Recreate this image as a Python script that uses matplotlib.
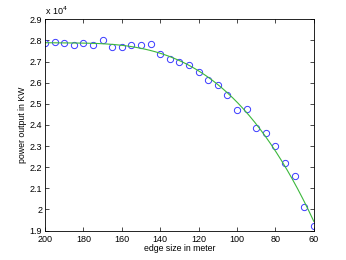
import numpy as np
import matplotlib
matplotlib.use('Agg')
import matplotlib.pyplot as plt

plt.rcParams['font.family'] = ['Liberation Sans', 'DejaVu Sans']

# edge size (m) and measured power output (x 10^4 KW)
edge_size = [200, 195, 190, 185, 180, 175, 170, 165, 160, 155, 150, 145, 140, 135,
             130, 125, 120, 115, 110, 105, 100, 95, 90, 85, 80, 75, 70, 65, 60]
power = [2.789, 2.791, 2.788, 2.777, 2.788, 2.777, 2.802, 2.769, 2.770, 2.778,
         2.777, 2.782, 2.737, 2.714, 2.697, 2.685, 2.651, 2.611, 2.591, 2.542,
         2.472, 2.474, 2.384, 2.364, 2.302, 2.219, 2.159, 2.014, 1.921]

x_ticks = [200, 180, 160, 140, 120, 100, 80, 60]
y_ticks = [1.9, 2.0, 2.1, 2.2, 2.3, 2.4, 2.5, 2.6, 2.7, 2.8, 2.9]
y_tick_labels = ['1.9', '2', '2.1', '2.2', '2.3', '2.4', '2.5', '2.6', '2.7', '2.8', '2.9']

x = np.array(edge_size, dtype=float)
y = np.array(power) * 1e4

# fitted curve through the measurements
coef = np.polyfit(x, y, 3)
xf = np.linspace(60, 200, 300)
yf = np.polyval(coef, xf)

fig = plt.figure(figsize=(3.46, 2.6), dpi=100)
ax = fig.add_axes([0.13, 0.113, 0.777, 0.813])

ax.plot(x, y, 'o', mfc='none', mec='#3a3aff', ms=4.5, mew=0.7)
ax.plot(xf, yf, '-', color='#3cb83c', lw=0.8)

ax.set_xlim(200, 60)
ax.set_ylim(1.9e4, 2.9e4)
ax.set_xticks(x_ticks)
ax.set_yticks([v * 1e4 for v in y_ticks])
ax.set_yticklabels(y_tick_labels)
ax.tick_params(direction='in', top=True, right=True, labelsize=6.5, length=3,
               width=0.5, pad=2)
ax.tick_params(axis='x', pad=3)
for s in ax.spines.values():
    s.set_linewidth(0.6)

ax.text(0.0, 1.01, r'x 10$^4$', transform=ax.transAxes, fontsize=6.5,
        ha='left', va='bottom')
ax.set_xlabel('edge size in meter', fontsize=6.3, labelpad=0.5)
ax.set_ylabel('power output in KW', fontsize=6.3, labelpad=2)

fig.savefig('out.png', dpi=100)
